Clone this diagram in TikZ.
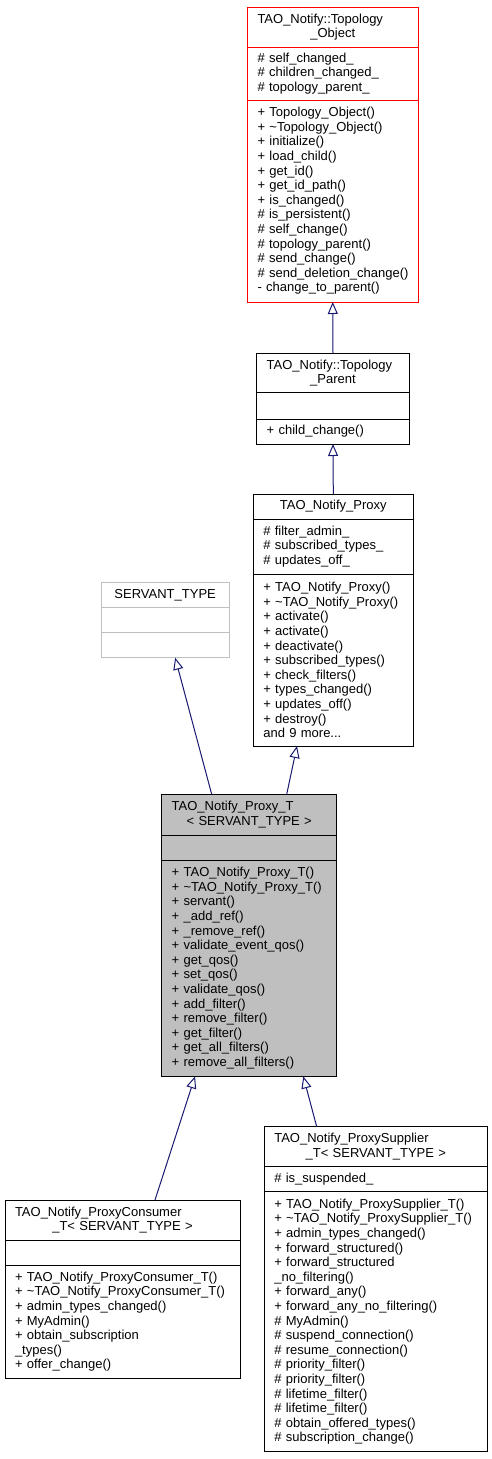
\documentclass[tikz,border=0pt]{standalone}
\usepackage{fontspec}
\setmainfont{Liberation Sans}
\usetikzlibrary{positioning,arrows.meta}
\definecolor{edgeblue}{HTML}{191970}
\definecolor{boxgray}{HTML}{BFBFBF}
\newcommand{\umlfont}{\fontsize{13}{14.6}\selectfont}
\newcommand{\midline}[1]{\makebox[\hsize][c]{#1}}
\tikzset{
  part/.style={draw, rectangle, outer sep=0pt, inner xsep=10pt, inner ysep=0pt,
    line width=1pt, font=\umlfont, align=left, anchor=north,
    execute at begin node={\rightskip=0pt plus 1fil minus 20pt}},
  boxw/.code={\pgfmathsetlengthmacro\partw{#1-20}\tikzset{text width=\partw}},
  inherit/.style={draw=edgeblue, line width=1pt, -{Triangle[open, length=12pt, width=10pt]}},
}
\begin{document}
\begin{tikzpicture}[x=1pt, y=-1pt]
				\useasboundingbox (0,0) rectangle (492,1459);
				% topology object
				\node[part, boxw=170.5, minimum height=40pt, draw=red] (objtitle) at (332.75,7) {TAO\_Notify::Topology\\\midline{\_Object}};
				\node[part, boxw=170.5, minimum height=53pt, draw=red, below=0pt of objtitle] (objattr) {\# self\_changed\_\\\# children\_changed\_\\\# topology\_parent\_};
				\node[part, boxw=170.5, minimum height=202pt, draw=red, below=0pt of objattr] (objops) {+ Topology\_Object()\\+ \textasciitilde Topology\_Object()\\+ initialize()\\+ load\_child()\\+ get\_id()\\+ get\_id\_path()\\+ is\_changed()\\\# is\_persistent()\\\# self\_change()\\\# topology\_parent()\\\# send\_change()\\\# send\_deletion\_change()\\- change\_to\_parent()};
				% topology parent
				\node[part, boxw=152.6, minimum height=39.4pt] (partitle) at (333,353.3) {TAO\_Notify::Topology\\\midline{\_Parent}};
				\node[part, boxw=152.6, minimum height=26.3pt, below=0pt of partitle] (parattr) {};
				\node[part, boxw=152.6, minimum height=25pt, below=0pt of parattr] (parops) {+ child\_change()};
				% proxy
				\node[part, boxw=160, minimum height=25pt] (proxytitle) at (333.3,494) {\midline{TAO\_Notify\_Proxy}};
				\node[part, boxw=160, minimum height=55pt, below=0pt of proxytitle] (proxyattr) {\# filter\_admin\_\\\# subscribed\_types\_\\\# updates\_off\_};
				\node[part, boxw=160, minimum height=172pt, below=0pt of proxyattr] (proxyops) {+ TAO\_Notify\_Proxy()\\+ \textasciitilde TAO\_Notify\_Proxy()\\+ activate()\\+ activate()\\+ deactivate()\\+ subscribed\_types()\\+ check\_filters()\\+ types\_changed()\\+ updates\_off()\\+ destroy()\\and 9 more...};
				% servant type
				\node[part, boxw=128.3, minimum height=25pt, draw=boxgray] (servtitle) at (165.15,582.3) {\midline{SERVANT\_TYPE}};
				\node[part, boxw=128.3, minimum height=25.4pt, draw=boxgray, below=0pt of servtitle] (servattr) {};
				\node[part, boxw=128.3, minimum height=25pt, draw=boxgray, below=0pt of servattr] (servops) {};
				% proxy template
				\node[part, boxw=175, minimum height=40.7pt, fill=boxgray] (pttitle) at (249.2,794.3) {TAO\_Notify\_Proxy\_T\\\midline{< SERVANT\_TYPE >}};
				\node[part, boxw=175, minimum height=25pt, fill=boxgray, below=0pt of pttitle] (ptattr) {};
				\node[part, boxw=175, minimum height=216.4pt, fill=boxgray, below=0pt of ptattr] (ptops) {+ TAO\_Notify\_Proxy\_T()\\+ \textasciitilde TAO\_Notify\_Proxy\_T()\\+ servant()\\+ \_add\_ref()\\+ \_remove\_ref()\\+ validate\_event\_qos()\\+ get\_qos()\\+ set\_qos()\\+ validate\_qos()\\+ add\_filter()\\+ remove\_filter()\\+ get\_filter()\\+ get\_all\_filters()\\+ remove\_all\_filters()};
				% proxy consumer
				\node[part, boxw=235, minimum height=40pt] (constitle) at (122.5,1200) {TAO\_Notify\_ProxyConsumer\\\midline{\_T< SERVANT\_TYPE >}};
				\node[part, boxw=235, minimum height=25pt, below=0pt of constitle] (consattr) {};
				\node[part, boxw=235, minimum height=113.3pt, below=0pt of consattr] (consops) {+ TAO\_Notify\_ProxyConsumer\_T()\\+ \textasciitilde TAO\_Notify\_ProxyConsumer\_T()\\+ admin\_types\_changed()\\+ MyAdmin()\\+ obtain\_subscription\\\_types()\\+ offer\_change()};
				% proxy supplier
				\node[part, boxw=223, minimum height=40pt] (suptitle) at (375.8,1126.7) {TAO\_Notify\_ProxySupplier\\\midline{\_T< SERVANT\_TYPE >}};
				\node[part, boxw=223, minimum height=25pt, below=0pt of suptitle] (supattr) {\# is\_suspended\_};
				\node[part, boxw=223, minimum height=260pt, below=0pt of supattr] (supops) {+ TAO\_Notify\_ProxySupplier\_T()\\+ \textasciitilde TAO\_Notify\_ProxySupplier\_T()\\+ admin\_types\_changed()\\+ forward\_structured()\\+ forward\_structured\\\_no\_filtering()\\+ forward\_any()\\+ forward\_any\_no\_filtering()\\\# MyAdmin()\\\# suspend\_connection()\\\# resume\_connection()\\\# priority\_filter()\\\# priority\_filter()\\\# lifetime\_filter()\\\# lifetime\_filter()\\\# obtain\_offered\_types()\\\# subscription\_change()};
				% inheritance edges
				\draw[inherit] (partitle.north) -- (objops.south);
				\draw[inherit] (proxytitle.north) -- (parops.south);
				\draw[inherit] ([xshift=-37.5pt]pttitle.north) -- ([xshift=10pt]servops.south);
				\draw[inherit] ([xshift=37.5pt]pttitle.north) -- ([xshift=-36.3pt]proxyops.south);
				\draw[inherit] ([xshift=32.5pt]constitle.north) -- ([xshift=-54.2pt]ptops.south);
				\draw[inherit] ([xshift=-59.1pt]suptitle.north) -- ([xshift=54.1pt]ptops.south);
			\end{tikzpicture}
\end{document}
